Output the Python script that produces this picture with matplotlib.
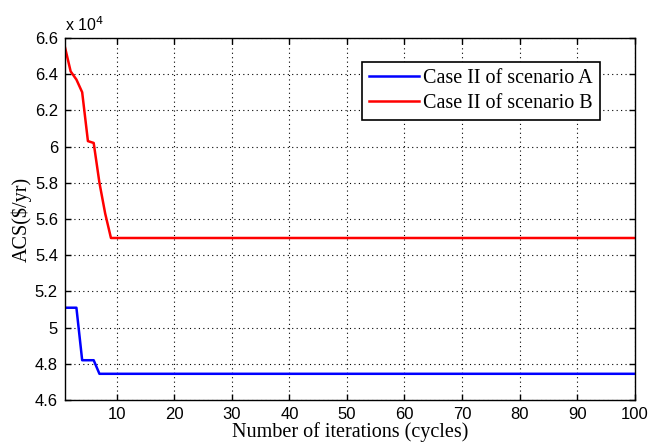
import matplotlib
matplotlib.use("Agg")
import matplotlib.pyplot as plt
import numpy as np

# Iteration counts and annual cost (ACS, $/yr)
n_iter = 100
iters = np.arange(1, n_iter + 1)

acs_a_head = [51100, 51100, 51100, 48200, 48200, 48200]
acs_a_final = 47450
acs_b_head = [65500, 64150, 63700, 63000, 60300, 60200, 58000, 56300]
acs_b_final = 54950

acs_a = acs_a_head + [acs_a_final] * (n_iter - len(acs_a_head))
acs_b = acs_b_head + [acs_b_final] * (n_iter - len(acs_b_head))

labels = ["Case II of scenario A", "Case II of scenario B"]
xticks = [10, 20, 30, 40, 50, 60, 70, 80, 90, 100]
yticks = [4.6, 4.8, 5.0, 5.2, 5.4, 5.6, 5.8, 6.0, 6.2, 6.4, 6.6]

scale = 1e4

fig = plt.figure(figsize=(6.49, 4.46), dpi=100)
ax = fig.add_axes([0.100, 0.103, 0.878, 0.812])

ax.plot(iters, np.array(acs_a) / scale, color="#0000ff", lw=1.8, label=labels[0])
ax.plot(iters, np.array(acs_b) / scale, color="#ff0000", lw=1.8, label=labels[1])

ax.set_xlim(1, 100)
ax.set_ylim(4.6, 6.6)
ax.set_xticks(xticks)
ax.set_yticks(yticks)
ax.set_yticklabels(["%g" % v for v in yticks])
ax.tick_params(direction="in", top=True, right=True, length=4, width=1,
               labelsize=12, pad=5)
for lab in ax.get_xticklabels() + ax.get_yticklabels():
    lab.set_fontfamily("Liberation Sans")
for s in ax.spines.values():
    s.set_linewidth(1.0)
ax.grid(True, color="black", linestyle=(0, (1, 3)), linewidth=0.8)

ax.set_xlabel("Number of iterations (cycles)", family="Liberation Serif",
              fontsize=14.5, labelpad=0)
ax.set_ylabel("ACS($/yr)", family="Liberation Serif", fontsize=14.5, labelpad=2)
ax.text(0.0, 1.01, r"x 10$^{4}$", transform=ax.transAxes, fontsize=11.5,
        family="Liberation Sans", ha="left", va="bottom")

leg = ax.legend(loc="upper right", bbox_to_anchor=(0.9386, 0.934),
                borderaxespad=0, fancybox=False, framealpha=1,
                edgecolor="black", handlelength=2.5, handletextpad=0.2,
                borderpad=0.35, labelspacing=0.3,
                prop={"family": "Liberation Serif", "size": 14.5})
leg.get_frame().set_linewidth(1.2)

fig.savefig("out.png", dpi=100)
